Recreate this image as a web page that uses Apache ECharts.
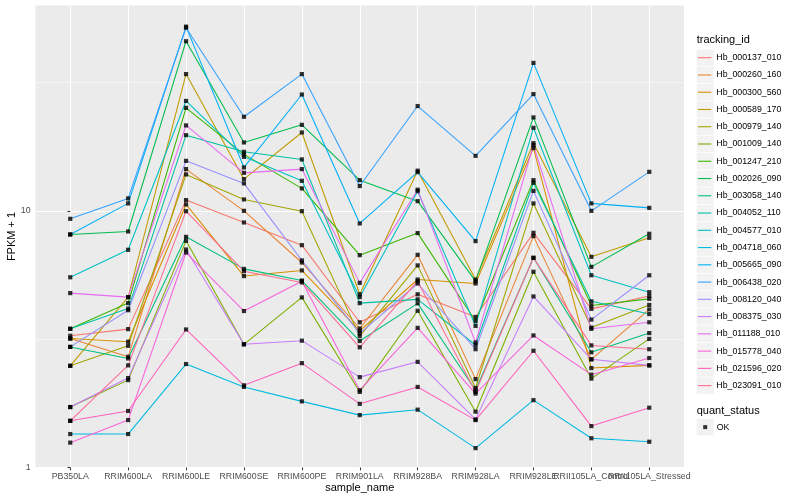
<!DOCTYPE html>
<html>
<head>
<meta charset="utf-8">
<script src="https://cdn.jsdelivr.net/npm/echarts@6/dist/echarts.min.js"></script>
<style>
html,body{margin:0;padding:0;background:#ffffff;}
#chart{width:800px;height:500px;}
</style>
</head>
<body>
<div id="chart"></div>
<script>
// ---- data ----
const categories = ['PB350LA','RRIM600LA','RRIM600LE','RRIM600SE','RRIM600PE','RRIM901LA','RRIM928BA','RRIM928LA','RRIM928LE','RRII105LA_Control','RRII105LA_Stressed'];
const trackingIds = ['Hb_000137_010','Hb_000260_160','Hb_000300_560','Hb_000589_170','Hb_000979_140','Hb_001009_140','Hb_001247_210','Hb_002026_090','Hb_003058_140','Hb_004052_110','Hb_004577_010','Hb_004718_060','Hb_005665_090','Hb_006438_020','Hb_008120_040','Hb_008375_030','Hb_011188_010','Hb_015778_040','Hb_021596_020','Hb_023091_010'];
const yTickLabels = [1, 10];

const Hb_000137_010 = [3.26, 3.46, 11.01, 9.01, 7.35, 3.68, 4.73, 3.86, 8.21, 4.15, 4.66];
const Hb_000260_160 = [3.18, 2.70, 14.54, 10.0, 6.29, 3.48, 6.74, 2.21, 7.97, 2.64, 4.13];
const Hb_000300_560 = [3.18, 3.09, 10.59, 5.57, 5.86, 3.41, 5.40, 5.21, 17.55, 2.44, 2.50];
const Hb_000589_170 = [2.49, 4.61, 34.1, 13.29, 20.2, 4.73, 14.34, 5.40, 18.35, 6.62, 7.85];
const Hb_000979_140 = [2.49, 2.98, 13.86, 11.08, 9.97, 3.25, 6.13, 2.04, 10.69, 3.51, 4.30];
const Hb_001009_140 = [1.72, 2.19, 7.64, 3.02, 4.60, 1.97, 4.08, 1.65, 5.79, 2.22, 3.17];
const Hb_001247_210 = [3.47, 4.37, 25.2, 16.59, 12.23, 6.72, 8.19, 3.72, 13.17, 4.28, 4.54];
const Hb_002026_090 = [8.09, 8.31, 45.8, 18.47, 21.63, 13.17, 10.91, 5.32, 23.12, 6.05, 8.14];
const Hb_003058_140 = [2.95, 2.66, 7.92, 5.94, 5.35, 3.11, 4.36, 2.00, 6.56, 2.81, 3.34];
const Hb_004052_110 = [3.47, 4.16, 19.72, 16.98, 15.86, 4.37, 4.52, 3.00, 12.86, 4.44, 3.96];
const Hb_004577_010 = [5.51, 7.05, 26.8, 16.23, 13.09, 4.61, 11.93, 3.56, 21.06, 5.61, 4.82];
const Hb_004718_060 = [1.35, 1.35, 2.53, 2.06, 1.81, 1.60, 1.68, 1.19, 1.83, 1.30, 1.26];
const Hb_005665_090 = [8.09, 10.69, 52.2, 14.76, 28.4, 8.93, 14.15, 7.62, 37.7, 10.69, 10.27];
const Hb_006438_020 = [9.31, 11.18, 51.7, 23.25, 34.1, 12.49, 25.6, 16.38, 28.5, 10.0, 14.19];
const Hb_008120_040 = [2.95, 4.10, 15.66, 12.79, 6.41, 3.33, 5.21, 2.89, 11.96, 3.77, 5.61];
const Hb_008375_030 = [1.72, 2.23, 7.07, 3.02, 3.12, 2.25, 2.58, 1.54, 4.64, 2.64, 2.50];
const Hb_011188_010 = [4.78, 4.61, 21.52, 14.06, 14.54, 5.24, 12.09, 3.07, 18.03, 3.47, 3.68];
const Hb_015778_040 = [1.25, 1.53, 6.88, 4.07, 5.32, 2.00, 3.50, 1.94, 3.27, 2.30, 2.67];
const Hb_021596_020 = [1.52, 1.66, 3.45, 2.09, 2.55, 1.77, 2.06, 1.53, 2.85, 1.45, 1.71];
const Hb_023091_010 = [1.52, 2.50, 9.97, 5.82, 5.26, 2.94, 5.32, 1.97, 6.56, 2.99, 2.89];

const seriesValues = [Hb_000137_010, Hb_000260_160, Hb_000300_560, Hb_000589_170, Hb_000979_140,
  Hb_001009_140, Hb_001247_210, Hb_002026_090, Hb_003058_140, Hb_004052_110, Hb_004577_010,
  Hb_004718_060, Hb_005665_090, Hb_006438_020, Hb_008120_040, Hb_008375_030, Hb_011188_010,
  Hb_015778_040, Hb_021596_020, Hb_023091_010];

// ---- style ----
const palette = ['#F8766D','#EA8331','#D89000','#C09B00','#A3A500','#7CAE00','#39B600','#00BB4E','#00BF7D','#00C1A3','#00BFC4','#00BAE0','#00B0F6','#35A2FF','#9590FF','#C77CFF','#E76BF3','#FA62DB','#FF62BC','#FF6C91'];
const FONT = 'Liberation Sans, Arial, Helvetica, sans-serif';
const minorBreaks = [Math.sqrt(10), Math.sqrt(1000)];

const gridL = 35.5, gridT = 5.5, gridR = 684, gridB = 467.5;
const legTop = 49.07, legStep = 17.26, keyX = 696.7, keyW = 17;

// label of index 9 is drawn by a second axis so both overlapping labels are kept
const allIdx = categories.map((c, i) => i);
const idxMain = allIdx.filter(i => i !== 9);
const idxSecond = [9];

const chart = echarts.init(document.getElementById('chart'), null, {renderer: 'canvas'});

const lineSeries = trackingIds.map((name, k) => ({
  type: 'line',
  name: name,
  data: seriesValues[k].map((v, i) => [i, v]),
  symbol: 'none',
  showSymbol: false,
  z: 2,
  silent: true,
  animation: false,
  lineStyle: {color: palette[k], width: 1.07},
  itemStyle: {color: palette[k]},
  emphasis: {disabled: true}
}));

const allPoints = [];
seriesValues.forEach(vals => vals.forEach((v, i) => allPoints.push([i, v])));

const pointSeries = {
  type: 'scatter',
  name: 'OK',
  data: allPoints,
  symbol: 'rect',
  symbolSize: [4.2, 4.2],
  z: 3,
  silent: true,
  animation: false,
  itemStyle: {color: '#000000'},
  markLine: {
    silent: true,
    animation: false,
    z: 1,
    symbol: ['none', 'none'],
    label: {show: false},
    emphasis: {disabled: true},
    lineStyle: {color: '#ffffff', type: 'solid', width: 0.53},
    data: minorBreaks.map(v => ({yAxis: v}))
  }
};

const keyRects = trackingIds.map((n, k) => ({
  type: 'rect',
  shape: {x: keyX, y: legTop + k * legStep + 0.4, width: keyW, height: legStep - 0.8},
  style: {fill: '#F2F2F2'},
  silent: true
}));
keyRects.push({
  type: 'rect',
  shape: {x: keyX, y: 418.5 + 0.4, width: keyW, height: legStep - 0.8},
  style: {fill: '#F2F2F2'},
  silent: true
});

const xLabelStyle = {color: '#4D4D4D', fontSize: 8.8, fontFamily: FONT};

chart.setOption({
  animation: false,
  backgroundColor: '#ffffff',
  textStyle: {fontFamily: FONT},
  title: [
    {text: 'tracking_id', left: keyX, top: 34.5, padding: 0,
     textStyle: {fontSize: 11, fontWeight: 'normal', color: '#000000', fontFamily: FONT}},
    {text: 'quant_status', left: keyX, top: 405.5, padding: 0,
     textStyle: {fontSize: 11, fontWeight: 'normal', color: '#000000', fontFamily: FONT}}
  ],
  grid: {
    left: gridL, top: gridT, width: gridR - gridL, height: gridB - gridT,
    containLabel: false, outerBoundsMode: 'none',
    show: true, backgroundColor: '#EBEBEB', borderWidth: 0
  },
  xAxis: [
    {
      type: 'value',
      position: 'bottom',
      min: -0.6, max: 10.6,
      name: 'sample_name',
      nameLocation: 'middle',
      nameGap: 15,
      nameMoveOverlap: false,
      nameTextStyle: {fontSize: 11, color: '#000000', fontFamily: FONT},
      axisLine: {show: false},
      axisTick: {show: true, length: 2.75, customValues: allIdx,
                 lineStyle: {color: '#333333', width: 1.07}},
      axisLabel: Object.assign({show: true, customValues: idxMain, margin: 5,
                  formatter: v => categories[Math.round(v)] || '',
                  showMinLabel: true, showMaxLabel: true, hideOverlap: false}, xLabelStyle),
      splitLine: {show: true, lineStyle: {color: '#ffffff', width: 1.07}}
    },
    {
      type: 'value',
      position: 'top',
      offset: -(gridB - gridT),
      min: -0.6, max: 10.6,
      axisLine: {show: false},
      axisTick: {show: false},
      axisLabel: Object.assign({show: true, inside: true, customValues: idxSecond, margin: 5,
                  formatter: v => categories[Math.round(v)] || '',
                  showMinLabel: true, showMaxLabel: true, hideOverlap: false}, xLabelStyle),
      splitLine: {show: false}
    }
  ],
  yAxis: {
    type: 'log',
    logBase: 10,
    min: 1, max: 63.1,
    name: 'FPKM + 1',
    nameLocation: 'middle',
    nameGap: 18,
    nameRotate: 90,
    nameMoveOverlap: false,
    nameTextStyle: {fontSize: 11, color: '#000000', fontFamily: FONT},
    axisLine: {show: false},
    axisTick: {show: true, length: 2.75, customValues: yTickLabels,
               lineStyle: {color: '#333333', width: 1.07}},
    axisLabel: {show: true, customValues: yTickLabels, margin: 4.95,
                formatter: v => String(v),
                showMinLabel: true, showMaxLabel: true,
                color: '#4D4D4D', fontSize: 8.8, fontFamily: FONT},
    splitLine: {show: true, lineStyle: {color: '#ffffff', width: 1.07}}
  },
  legend: [
    {
      data: trackingIds,
      orient: 'vertical',
      left: 698, top: legTop,
      padding: 0, itemGap: 0,
      itemWidth: 13.3, itemHeight: 1.1,
      icon: 'rect',
      selectedMode: false,
      textStyle: {fontSize: 8.8, color: '#000000', lineHeight: legStep, fontFamily: FONT}
    },
    {
      data: ['OK'],
      orient: 'vertical',
      left: 703.2, top: 418.5,
      padding: 0, itemGap: 0,
      itemWidth: 4, itemHeight: 4,
      icon: 'rect',
      selectedMode: false,
      textStyle: {fontSize: 8.8, color: '#000000', lineHeight: legStep, padding: [0, 0, 0, 4.5], fontFamily: FONT}
    }
  ],
  graphic: {elements: keyRects},
  series: [...lineSeries, pointSeries]
});
</script>
</body>
</html>
